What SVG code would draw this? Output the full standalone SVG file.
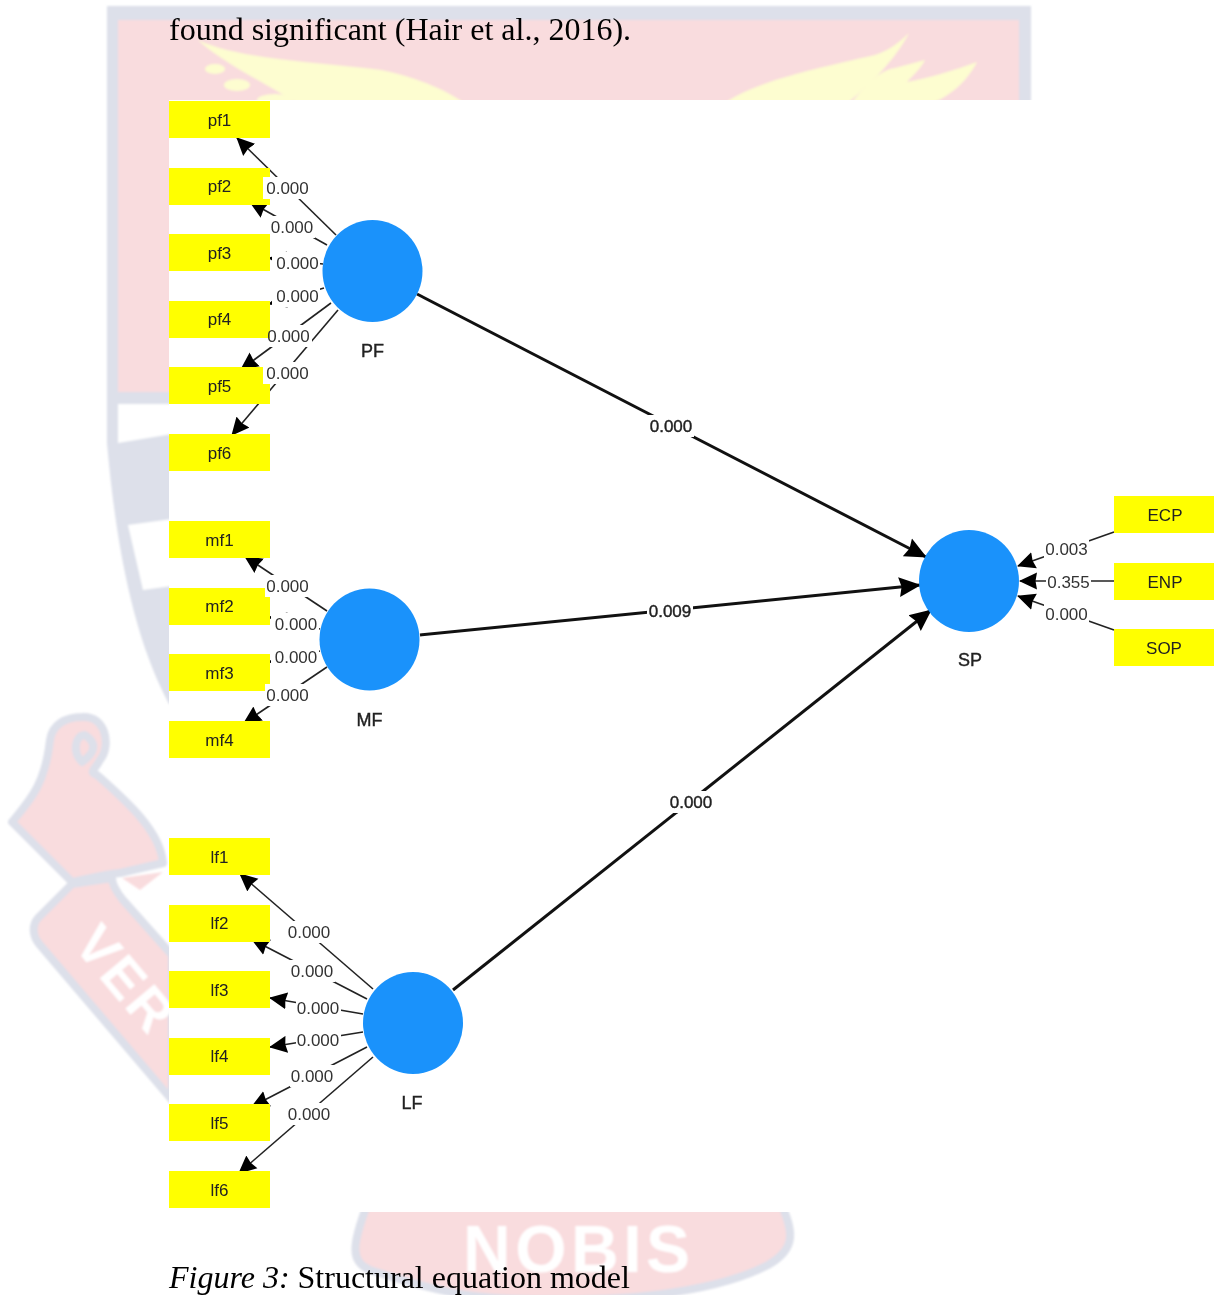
<svg xmlns="http://www.w3.org/2000/svg" width="1214" height="1295" viewBox="0 0 1214 1295">
<style>
.body{font-family:"Liberation Serif","Times New Roman",serif;font-size:32px;fill:#000}
.box{fill:#ffff00}
.boxt{font-family:"Liberation Sans",Arial,sans-serif;font-size:17px;fill:#222;text-anchor:middle}
.lv{fill:#1a92fb}
.lvt{font-family:"Liberation Sans",Arial,sans-serif;font-size:18px;fill:#222;stroke:#222;stroke-width:.4;text-anchor:middle}
.thin{stroke:#222;stroke-width:1.6;fill:none;marker-end:url(#a1)}
.thick{stroke:#111;stroke-width:3;fill:none;marker-end:url(#a2)}
.bg{fill:#fff}
.w{font-family:"Liberation Sans",Arial,sans-serif;font-size:17px;fill:#333;text-anchor:middle}
.wb{font-family:"Liberation Sans",Arial,sans-serif;font-size:17px;fill:#222;stroke:#222;stroke-width:.4;text-anchor:middle}
.pink{fill:#f9dcde;stroke:#dde0ea;stroke-width:8;stroke-linejoin:round}
.grey{fill:#dde0ea}
.wing{fill:#fdfdd0}
.mark{font-family:"Liberation Sans",Arial,sans-serif;font-weight:bold;fill:#fff}
</style>
<defs>
<filter id="soft" x="-5%" y="-5%" width="110%" height="110%"><feGaussianBlur stdDeviation="1.2"/></filter>
<marker id="a1" markerUnits="userSpaceOnUse" markerWidth="20" markerHeight="18" viewBox="0 0 20 18" refX="17" refY="9" orient="auto"><path d="M0 0.5 L18 9 L0 17.5 L1.5 9 Z" fill="#000"/></marker>
<marker id="a2" markerUnits="userSpaceOnUse" markerWidth="24" markerHeight="22" viewBox="0 0 24 22" refX="21" refY="11" orient="auto"><path d="M0 1 L22 11 L0 21 L2.500 11 Z" fill="#000"/></marker>
</defs>
<rect width="1214" height="1295" fill="#fff"/>
<g id="watermark" filter="url(#soft)">
<path class="grey" d="M107,6 H1031 V110 H107 Z"/>
<rect x="118" y="20" width="901" height="90" fill="#f9dcde"/>
<path class="grey" d="M107,100 H172 V704 H169 C140,650 118,570 107,443 Z"/>
<rect x="118" y="100" width="54" height="292" fill="#f9dcde"/>
<path d="M118,404 H172 V434 L118,443 Z" fill="#fff"/>
<path d="M128,525 L172,519 V586 L143,590 Z" fill="#fff"/>
<path class="wing" d="M198,40 C240,60 320,62 381,70 C420,78 450,92 467,105 H300 C270,85 225,65 198,40 Z"/>
<ellipse class="wing" cx="215" cy="69" rx="10" ry="5"/>
<ellipse class="wing" cx="237" cy="85" rx="13" ry="6"/>
<ellipse class="wing" cx="275" cy="100" rx="18" ry="6"/>
<path class="wing" d="M722,105 C750,85 790,74 875,55 C890,50 900,42 909,33 C895,60 870,85 845,105 Z"/>
<path class="wing" d="M850,105 C865,85 880,70 895,68 L925,60 C920,70 912,76 907,82 C930,78 955,70 977,62 C965,85 945,100 925,105 Z"/>
<path class="pink" d="M82,717 C105,715 112,745 100,760 C95,770 88,772 97,775 C125,800 160,830 163,863 L120,873 C100,875 85,880 72,882 L12,822 C30,800 45,785 50,740 C52,725 65,717 82,717 Z"/>
<path class="pink" d="M85,735 C75,735 72,752 82,762 C92,755 100,745 85,735 Z"/>
<path class="pink" d="M72,884 L38,918 C32,925 32,936 40,945 L172,1100 V955 L123,900 C115,890 112,882 112,878 Z"/>
<path d="M122,878 L140,890 L163,872 Z" fill="#f9dcde"/>
<text class="mark" font-size="55" transform="translate(72,945) rotate(50)" letter-spacing="3">VER</text>
<path class="pink" d="M367,1205 C352,1245 350,1262 370,1270 C450,1296 480,1300 560,1300 C640,1300 720,1290 768,1265 C798,1248 792,1230 782,1205 Z"/>
<text class="mark" x="463" y="1272" font-size="66" textLength="227">NOBIS</text>
</g>
<rect id="panel" x="169" y="100" width="1045" height="1112" fill="#fff"/>
<text class="body" x="169" y="40">found significant (Hair et al., 2016).</text>
<text class="body" x="169" y="1288"><tspan font-style="italic">Figure 3:</tspan> Structural equation model</text>

<g id="connectors">
<path class="thin" d="M336,235 L237,138"/>
<path class="thin" d="M327,245 L250,202"/>
<path class="thin" d="M323,264 L269,258"/>
<path class="thin" d="M324,288 L269,304"/>
<path class="thin" d="M331,303 L241,369.500"/>
<path class="thin" d="M338,310 L232,435"/>
<path class="thin" d="M327,611 L245,556.500"/>
<path class="thin" d="M320,629 L269,617"/>
<path class="thin" d="M320,651 L269,662"/>
<path class="thin" d="M327,667 L244,723"/>
<path class="thin" d="M373,989 L240,874"/>
<path class="thin" d="M367,999 L252,939.500"/>
<path class="thin" d="M363,1014 L270,998"/>
<path class="thin" d="M363,1032 L270,1047"/>
<path class="thin" d="M367,1047 L252,1106.500"/>
<path class="thin" d="M373,1057 L239,1173"/>
<path class="thin" d="M1114,532 L1018,566"/>
<path class="thin" d="M1114,581 L1020,581"/>
<path class="thin" d="M1114,630 L1018,596"/>
<path class="thick" d="M417,294 L926,557"/>
<path class="thick" d="M420,635 L920,585"/>
<path class="thick" d="M453,990 L931,610"/>
</g>

<g id="pf1"><rect class="box" x="169" y="101" width="101" height="37"/><text class="boxt" x="219.5" y="125.500">pf1</text></g>
<g id="pf2"><rect class="box" x="169" y="168" width="101" height="37"/><text class="boxt" x="219.5" y="192">pf2</text></g>
<g id="pf3"><rect class="box" x="169" y="234" width="101" height="37"/><text class="boxt" x="219.5" y="258.500">pf3</text></g>
<g id="pf4"><rect class="box" x="169" y="301" width="101" height="37"/><text class="boxt" x="219.5" y="325">pf4</text></g>
<g id="pf5"><rect class="box" x="169" y="367" width="101" height="37"/><text class="boxt" x="219.5" y="392">pf5</text></g>
<g id="pf6"><rect class="box" x="169" y="434" width="101" height="37"/><text class="boxt" x="219.5" y="458.500">pf6</text></g>
<g id="mf1"><rect class="box" x="169" y="521" width="101" height="37"/><text class="boxt" x="219.500" y="545.500">mf1</text></g>
<g id="mf2"><rect class="box" x="169" y="588" width="101" height="37"/><text class="boxt" x="219.500" y="612">mf2</text></g>
<g id="mf3"><rect class="box" x="169" y="654" width="101" height="37"/><text class="boxt" x="219.500" y="679">mf3</text></g>
<g id="mf4"><rect class="box" x="169" y="721" width="101" height="37"/><text class="boxt" x="219.500" y="745.500">mf4</text></g>
<g id="lf1"><rect class="box" x="169" y="838" width="101" height="37"/><text class="boxt" x="219.500" y="862.500">lf1</text></g>
<g id="lf2"><rect class="box" x="169" y="905" width="101" height="37"/><text class="boxt" x="219.500" y="929">lf2</text></g>
<g id="lf3"><rect class="box" x="169" y="971" width="101" height="37"/><text class="boxt" x="219.500" y="995.500">lf3</text></g>
<g id="lf4"><rect class="box" x="169" y="1038" width="101" height="37"/><text class="boxt" x="219.500" y="1062">lf4</text></g>
<g id="lf5"><rect class="box" x="169" y="1104" width="101" height="37"/><text class="boxt" x="219.500" y="1129">lf5</text></g>
<g id="lf6"><rect class="box" x="169" y="1171" width="101" height="37"/><text class="boxt" x="219.500" y="1195.500">lf6</text></g>
<g id="ECP"><rect class="box" x="1114" y="496" width="100" height="37"/><text class="boxt" x="1165" y="521">ECP</text></g>
<g id="ENP"><rect class="box" x="1114" y="563" width="100" height="37"/><text class="boxt" x="1165" y="587.500">ENP</text></g>
<g id="SOP"><rect class="box" x="1114" y="629" width="100" height="37"/><text class="boxt" x="1164" y="654">SOP</text></g>
<g id="PF"><ellipse class="lv" cx="372.500" cy="271" rx="50" ry="51"/><text class="lvt" x="372.500" y="357">PF</text></g>
<g id="MF"><ellipse class="lv" cx="369.500" cy="639.500" rx="50" ry="51"/><text class="lvt" x="369.500" y="726">MF</text></g>
<g id="LF"><ellipse class="lv" cx="413" cy="1023" rx="50" ry="51"/><text class="lvt" x="412" y="1109">LF</text></g>
<g id="SP"><ellipse class="lv" cx="969" cy="581" rx="50" ry="51"/><text class="lvt" x="970" y="666">SP</text></g>

<g id="weights">
<rect class="bg" x="263" y="177" width="47" height="22"/><text class="w" x="287.500" y="194">0.000</text>
<rect class="bg" x="270" y="216" width="45" height="22"/><text class="w" x="292" y="233">0.000</text>
<rect class="bg" x="272" y="252" width="48" height="22"/><text class="w" x="297.500" y="269">0.000</text>
<rect class="bg" x="272" y="285" width="48" height="22"/><text class="w" x="297.500" y="302">0.000</text>
<rect class="bg" x="270" y="325" width="42" height="22"/><text class="w" x="288.500" y="342">0.000</text>
<rect class="bg" x="263" y="362" width="47" height="22"/><text class="w" x="287.500" y="379">0.000</text>
<rect class="bg" x="265" y="575" width="45" height="22"/><text class="w" x="287.500" y="592">0.000</text>
<rect class="bg" x="271" y="613" width="48" height="22"/><text class="w" x="296" y="630">0.000</text>
<rect class="bg" x="271" y="646" width="48" height="22"/><text class="w" x="296" y="663">0.000</text>
<rect class="bg" x="265" y="684" width="45" height="22"/><text class="w" x="287.500" y="701">0.000</text>
<rect class="bg" x="287" y="921" width="45" height="22"/><text class="w" x="309" y="938">0.000</text>
<rect class="bg" x="290" y="960" width="45" height="22"/><text class="w" x="312" y="977">0.000</text>
<rect class="bg" x="296" y="997" width="45" height="22"/><text class="w" x="318" y="1014">0.000</text>
<rect class="bg" x="296" y="1030" width="45" height="22"/><text class="w" x="318" y="1046">0.000</text>
<rect class="bg" x="290" y="1065" width="45" height="22"/><text class="w" x="312" y="1082">0.000</text>
<rect class="bg" x="287" y="1103" width="45" height="22"/><text class="w" x="309" y="1120">0.000</text>
<rect class="bg" x="1044" y="538" width="45" height="22"/><text class="w" x="1066.500" y="555">0.003</text>
<rect class="bg" x="1046" y="571" width="45" height="22"/><text class="w" x="1068.500" y="588">0.355</text>
<rect class="bg" x="1044" y="603" width="45" height="22"/><text class="w" x="1066.500" y="620">0.000</text>
<rect class="bg" x="648" y="415" width="46" height="22"/><text class="wb" x="671" y="432">0.000</text>
<rect class="bg" x="647" y="600" width="46" height="22"/><text class="wb" x="670" y="617">0.009</text>
<rect class="bg" x="668" y="791" width="46" height="22"/><text class="wb" x="691" y="808">0.000</text>
</g>
</svg>
